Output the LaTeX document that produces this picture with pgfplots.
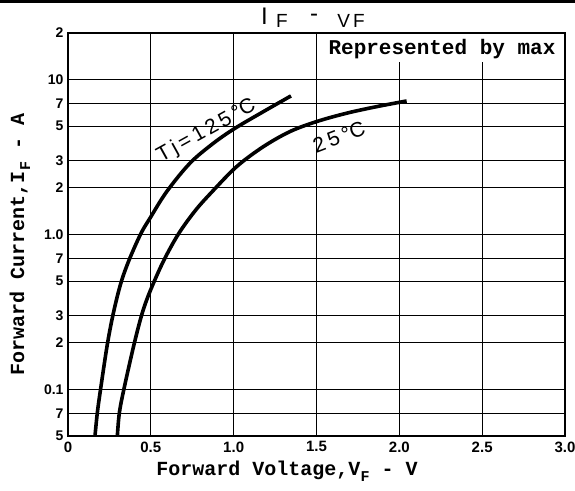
\documentclass[border=0pt]{standalone}
\usepackage{fontspec}
\setmainfont{Liberation Sans}
\newfontfamily\monofont{Liberation Mono}
\usepackage{pgfplots}
\pgfplotsset{compat=1.18}

\pgfplotstableread{
x y
0.163 0.0502
0.177 0.0706
0.197 0.101
0.237 0.194
0.273 0.308
0.318 0.481
0.368 0.681
0.439 1.009
0.495 1.275
0.596 1.893
0.736 2.886
0.877 3.88
1.008 4.85
1.179 6.21
1.346 7.85
}\hotdata

\pgfplotstableread{
x y
0.298 0.0502
0.310 0.0706
0.338 0.101
0.398 0.194
0.447 0.308
0.495 0.429
0.575 0.669
0.666 1.005
0.767 1.421
0.867 1.875
1.018 2.744
1.179 3.69
1.340 4.62
1.501 5.36
1.682 6.07
1.863 6.69
2.044 7.28
}\roomdata

\begin{document}
\begin{tikzpicture}
\useasboundingbox (0,0) rectangle (575pt,490pt);
\fill[black] (0,487pt) rectangle (575pt,490pt);
\begin{axis}[
  at={(68pt,54pt)}, anchor=south west,
  scale only axis, width=497pt, height=403pt,
  ymode=log,
  xmin=0, xmax=3, ymin=0.05, ymax=20,
  xtick={0,0.5,1,1.5,2,2.5,3},
  xticklabels={0,0.5,1.0,1.5,2.0,2.5,3.0},
  ytick={0.05,0.07,0.1,0.2,0.3,0.5,0.7,1,2,3,5,7,10,20},
  yticklabels={5,7,0.1,2,3,5,7,1.0,2,3,5,7,10,2},
  grid=major,
  major grid style={black, line width=0.9pt},
  axis line style={black, line width=1.3pt},
  major tick length=0pt,
  minor tick length=0pt,
  xticklabel style={font=\fontsize{15}{15}\selectfont\bfseries, yshift=-2pt},
  yticklabel style={font=\fontsize{14}{14}\selectfont\bfseries, xshift=-1pt},
]
\fill[white] ([xshift=0.9pt]axis cs:1.5,13) rectangle ([xshift=-1pt,yshift=-1pt]axis cs:3,20);
\addplot[black, line width=3.6pt, smooth, tension=0.55] table[x=x,y=y] {\hotdata};
\addplot[black, line width=3.6pt, smooth, tension=0.55] table[x=x,y=y] {\roomdata};
\node[rotate=29, font=\fontsize{21}{21}\selectfont, inner sep=0pt] at (axis cs:0.836,4.66) {T\,j\,=\,1\,2\,5\,\textdegree C};
\node[rotate=21, font=\fontsize{21}{21}\selectfont, inner sep=0pt] at (axis cs:1.636,4.26) {2\,5\,\textdegree C};
\end{axis}
% title
\node[font=\fontsize{24}{24}\selectfont, inner sep=0pt] at (264.5pt,474pt) {I};
\node[font=\fontsize{19}{19}\selectfont, inner sep=0pt] at (282pt,469.5pt) {F};
\node[font=\fontsize{24}{24}\selectfont, inner sep=0pt] at (314pt,472pt) {-};
\node[font=\fontsize{19}{19}\selectfont, inner sep=0pt] at (351pt,469pt) {V\,F};
% box text
\node[font=\monofont\bfseries\fontsize{21}{21}\selectfont, inner sep=0pt] at (442pt,441pt) {Represented by max};
% axis labels
\node[font=\monofont\bfseries\fontsize{20}{20}\selectfont, inner sep=0pt] at (287pt,19pt)
  {Forward Voltage,V\raisebox{-0.3em}{\fontsize{15}{15}\selectfont F} - V};
\node[rotate=90, font=\monofont\bfseries\fontsize{20}{20}\selectfont, inner sep=0pt] at (20pt,245.5pt)
  {Forward Current,I\raisebox{-0.3em}{\fontsize{15}{15}\selectfont F} - A};
\end{tikzpicture}
\end{document}
